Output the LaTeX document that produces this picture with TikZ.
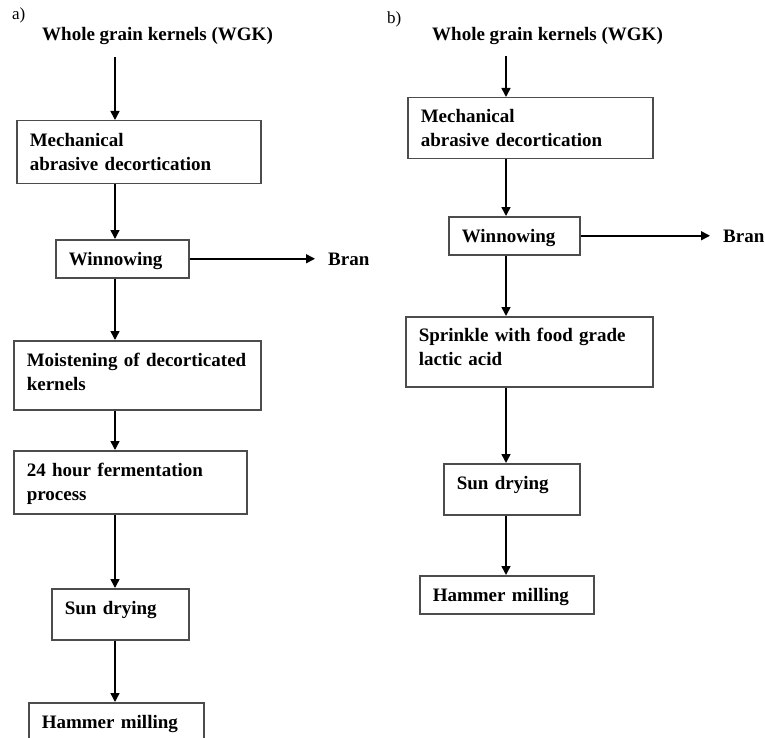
\documentclass[tikz,border=0pt]{standalone}
\usepackage{fontspec}
\setmainfont{Liberation Serif}
\usetikzlibrary{arrows.meta}
\tikzset{
  >={Triangle[length=9pt,width=9pt]},
  stepbox/.style={draw=black!70,line width=1.5pt,anchor=north west,align=left,
    inner xsep=13pt,inner ysep=0pt,text depth=0pt,
    font=\fontsize{19}{24}\selectfont\bfseries},
  title/.style={anchor=base,inner sep=0pt,font=\fontsize{19}{24}\selectfont\bfseries},
  side/.style={anchor=base west,inner sep=0pt,font=\fontsize{19}{24}\selectfont\bfseries},
  tag/.style={anchor=base west,inner sep=0pt,font=\fontsize{17}{20}\selectfont},
  flow/.style={->,line width=1.5pt,draw=black},
}
\begin{document}
\begin{tikzpicture}[x=1pt,y=-1pt]
  \useasboundingbox (0,0) rectangle (765,738);
  % a) with fermentation
  \coordinate (colA) at (115,0);
  \node[tag] (tagA) at (12,20) {a)};
  \node[title] (a0) at (157.5,41) {Whole grain kernels (WGK)};
  \node[stepbox,minimum width=244pt,text width=218pt,minimum height=63pt,text depth=24pt] (a1) at (16,120) {Mechanical\\abrasive decortication};
  \node[stepbox,minimum width=133pt,text width=107pt,minimum height=38pt] (a2) at (55,239) {Winnowing};
  \node[stepbox,minimum width=247pt,text width=221pt,minimum height=69pt,text depth=31pt] (a3) at (13,340) {Moistening of decorticated\\kernels};
  \node[stepbox,minimum width=233pt,text width=207pt,minimum height=63pt,text depth=24pt] (a4) at (13,450) {24 hour fermentation\\process};
  \node[stepbox,minimum width=137pt,text width=111pt,minimum height=51pt,text depth=13pt] (a5) at (51,588) {Sun drying};
  \node[stepbox,minimum width=175pt,text width=149pt,minimum height=38pt] (a6) at (28,702) {Hammer milling};
  \node[side] (aBran) at (328,265) {Bran};
  \draw[flow,shorten <=12pt] (a0.south -| colA) -- (a1.north -| colA);
  \draw[flow] (a1.south -| colA) -- (a2.north -| colA);
  \draw[flow,shorten >=13pt] (a2.east) -- (a2.east -| aBran.west);
  \draw[flow] (a2.south -| colA) -- (a3.north -| colA);
  \draw[flow] (a3.south -| colA) -- (a4.north -| colA);
  \draw[flow] (a4.south -| colA) -- (a5.north -| colA);
  \draw[flow] (a5.south -| colA) -- (a6.north -| colA);
  % b) with lactic acid
  \coordinate (colB) at (506,0);
  \node[tag] (tagB) at (387,24) {b)};
  \node[title] (b0) at (547.5,41) {Whole grain kernels (WGK)};
  \node[stepbox,minimum width=245pt,text width=219pt,minimum height=61pt,text depth=24pt] (b1) at (407,97) {Mechanical\\abrasive decortication};
  \node[stepbox,minimum width=131pt,text width=105pt,minimum height=38pt] (b2) at (448,216) {Winnowing};
  \node[stepbox,minimum width=247pt,text width=221pt,minimum height=70pt,text depth=34pt] (b3) at (405,316) {Sprinkle with food grade\\lactic acid};
  \node[stepbox,minimum width=136pt,text width=110pt,minimum height=51pt,text depth=13pt] (b4) at (443,463) {Sun drying};
  \node[stepbox,minimum width=174pt,text width=148pt,minimum height=38pt] (b5) at (419,575) {Hammer milling};
  \node[side] (bBran) at (723,242) {Bran};
  \draw[flow,shorten <=11pt] (b0.south -| colB) -- (b1.north -| colB);
  \draw[flow] (b1.south -| colB) -- (b2.north -| colB);
  \draw[flow,shorten >=13pt] (b2.east) -- (b2.east -| bBran.west);
  \draw[flow] (b2.south -| colB) -- (b3.north -| colB);
  \draw[flow] (b3.south -| colB) -- (b4.north -| colB);
  \draw[flow] (b4.south -| colB) -- (b5.north -| colB);
\end{tikzpicture}
\end{document}
